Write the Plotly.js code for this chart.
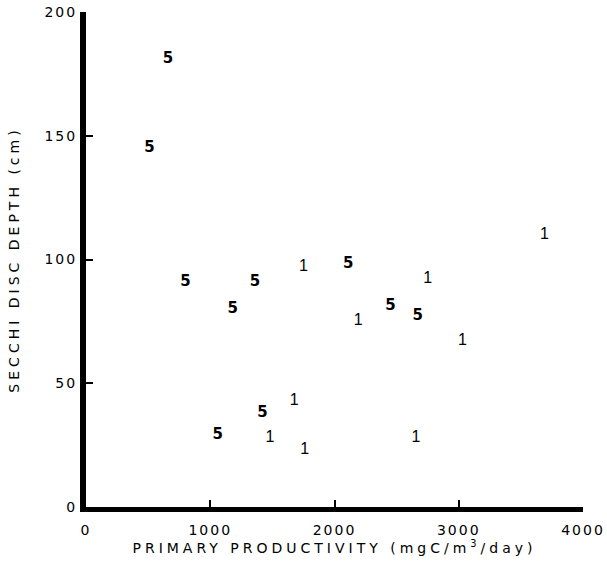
<!DOCTYPE html>
<html>
<head>
<meta charset="utf-8">
<script src="https://cdn.plot.ly/plotly-3.0.1.min.js"></script>
<style>
  html, body { margin: 0; padding: 0; background: #fff; }
  #chart { width: 607px; height: 563px; }
  .xtick text, .ytick text { letter-spacing: 2px; }
  .xtitle, .ytitle { letter-spacing: 4px; }
</style>
</head>
<body>
<div id="chart"></div>
<script>
// Stations marked "5"
const prod5 = [660, 510, 800, 1360, 1180, 2110, 2450, 2670, 1420, 1060];
const secchi5 = [181, 145, 91, 91, 80, 98, 81, 77, 38, 29];
// Stations marked "1"
const prod1 = [1750, 1760, 1480, 1675, 2190, 2750, 3030, 2655, 3690];
const secchi1 = [97, 23, 28, 43, 75, 92, 67, 28, 110];

const xTicks = [0, 1000, 2000, 3000, 4000];
const yTicks = [0, 50, 100, 150, 200];

const markFont = { family: 'DejaVu Sans', size: 15, color: '#000', weight: 'bold' };

const traces = [
  { x: prod5, y: secchi5, mode: 'text', type: 'scatter',
    text: prod5.map(() => '5'), textposition: 'middle center',
    textfont: markFont, hoverinfo: 'skip', showlegend: false },
  { x: prod1, y: secchi1, mode: 'text', type: 'scatter',
    text: prod1.map(() => '1'), textposition: 'middle center',
    textfont: { family: 'Liberation Sans', size: 16, color: '#000' },
    hoverinfo: 'skip', showlegend: false }
];

const tickFont = { family: 'DejaVu Sans', size: 14, color: '#000' };

const layout = {
  width: 607, height: 563,
  margin: { l: 86, r: 24, t: 12, b: 56 },
  paper_bgcolor: '#fff', plot_bgcolor: '#fff',
  showlegend: false,
  xaxis: {
    range: [0, 4000], tickvals: xTicks, ticktext: xTicks.map(String),
    showline: true, linecolor: '#000', linewidth: 5,
    ticks: 'inside', ticklen: 7, tickwidth: 2, tickcolor: '#000',
    ticklabelstandoff: 6,
    showgrid: false, zeroline: false, tickfont: tickFont,
    title: { text: 'PRIMARY PRODUCTIVITY (mgC/m<sup>3</sup>/day)',
             font: { family: 'DejaVu Sans', size: 14, color: '#000' }, standoff: 6 },
    automargin: false, fixedrange: true
  },
  yaxis: {
    range: [0, 200], tickvals: yTicks, ticktext: yTicks.map(String),
    showline: true, linecolor: '#000', linewidth: 6,
    ticks: 'inside', ticklen: 7, tickwidth: 2, tickcolor: '#000',
    showgrid: false, zeroline: false, tickfont: tickFont,
    title: { text: 'SECCHI DISC DEPTH (cm)',
             font: { family: 'DejaVu Sans', size: 14, color: '#000' }, standoff: 24 },
    automargin: false, fixedrange: true
  }
};

Plotly.newPlot('chart', traces, layout, { staticPlot: true, displayModeBar: false });
</script>
</body>
</html>
